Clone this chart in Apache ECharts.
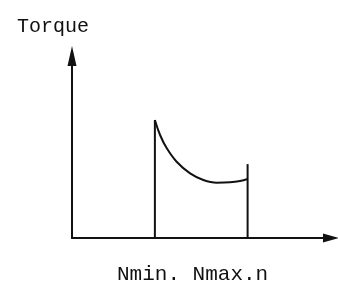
<!DOCTYPE html>
<html>
<head>
<meta charset="utf-8">
<script src="https://cdn.jsdelivr.net/npm/echarts@6/dist/echarts.min.js"></script>
<style>
  html, body { margin: 0; padding: 0; background: #fff; }
  #chart { width: 338px; height: 283px; }
</style>
</head>
<body>
<div id="chart"></div>
<script>
// speed axis in % of drawn range, torque axis in % of drawn range
const nMin = 32.0
const nMax = 67.8
const nMinTop = 64.8
const nMaxTop = 40.6
const curveX = [32.0, 34.0, 36.6, 40.4, 45.6, 50.7, 55.9, 61.0, 64.9, 67.8]
const curveY = [64.8, 56.6, 49.3, 41.9, 35.5, 31.9, 30.4, 30.6, 31.3, 32.4]
const yTitle = 'Torque'
const xTitle = 'Nmin. Nmax.n'

const ink = '#111'
const font = '"Liberation Mono", monospace'

const chart = echarts.init(document.getElementById('chart'))

chart.setOption({
  animation: false,
  grid: { left: 72, right: 7, top: 56, bottom: 45 },
  xAxis: {
    type: 'value', min: 0, max: 100,
    axisLine: { show: true, symbol: ['none', 'triangle'], symbolSize: [9, 16], lineStyle: { color: ink, width: 2 } },
    axisTick: { show: false }, axisLabel: { show: false }, splitLine: { show: false },
  },
  yAxis: {
    type: 'value', min: 0, max: 100,
    axisLine: { show: true, symbol: ['none', 'triangle'], symbolSize: [9, 20], lineStyle: { color: ink, width: 2 } },
    axisTick: { show: false }, axisLabel: { show: false }, splitLine: { show: false },
  },
  graphic: [
    { type: 'text', left: 17, top: 17, style: { text: yTitle, font: `20px ${font}`, fill: ink } },
    { type: 'text', left: 117, top: 264, style: { text: xTitle, font: `21px ${font}`, fill: ink } },
  ],
  series: [
    {
      type: 'line', symbol: 'none',
      lineStyle: { color: ink, width: 2 },
      data: [[nMin, 0], [nMin, nMinTop]],
    },
    {
      type: 'line', symbol: 'none',
      lineStyle: { color: ink, width: 2 },
      data: [[nMax, 0], [nMax, nMaxTop]],
    },
    {
      type: 'line', symbol: 'none', smooth: 0.4,
      lineStyle: { color: ink, width: 2 },
      data: curveX.map((x, i) => [x, curveY[i]]),
    },
  ],
})
</script>
</body>
</html>
